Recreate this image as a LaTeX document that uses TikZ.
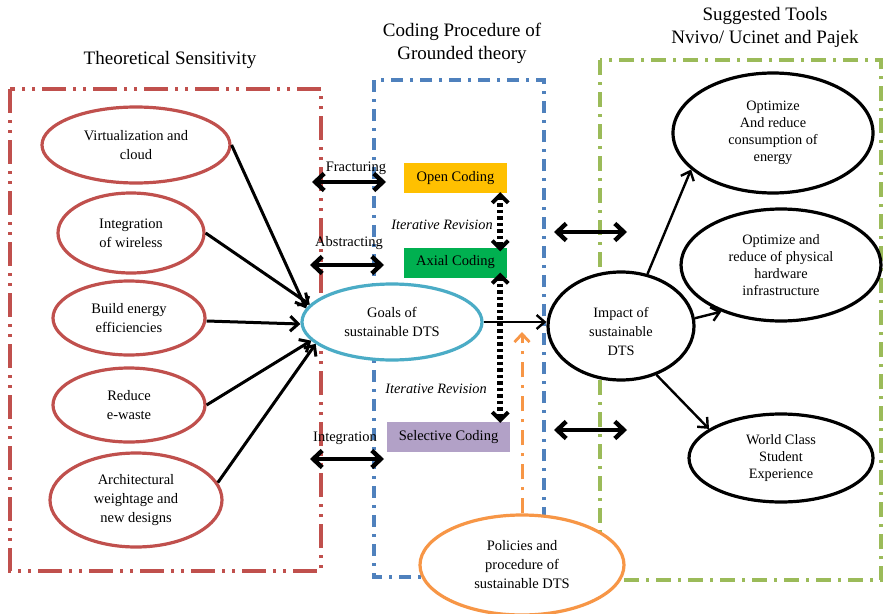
\documentclass[tikz,border=0pt]{standalone}
\usepackage{fontspec}
\setmainfont{Liberation Serif}
\usetikzlibrary{shapes.geometric,arrows.meta}
\definecolor{redframe}{RGB}{192,80,77}
\definecolor{blueframe}{RGB}{79,129,189}
\definecolor{greenframe}{RGB}{155,187,89}
\definecolor{cyanring}{RGB}{75,172,198}
\definecolor{orangering}{RGB}{247,150,70}
\definecolor{opencol}{RGB}{255,192,0}
\definecolor{axialcol}{RGB}{0,176,80}
\definecolor{selcol}{RGB}{178,161,199}
\begin{document}
\begin{tikzpicture}[x=1pt,y=-1pt,
  font=\fontsize{14.5}{19}\selectfont,
  oval/.style={ellipse, draw, line width=3.2pt, fill=white, inner sep=0pt, align=center},
  redoval/.style={oval, draw=redframe},
  blackoval/.style={oval, draw=black, font=\fontsize{14.3}{17}\selectfont},
  codebox/.style={rectangle, inner sep=0pt, minimum width=103pt, minimum height=30pt},
  title/.style={font=\fontsize{19}{23}\selectfont, align=center},
  feed/.style={line width=3pt, -{Straight Barb[length=8pt,width=15pt,line width=3pt]}},
  thin/.style={line width=2.4pt, -{Straight Barb[length=8pt,width=14pt,line width=2.4pt]}},
  both/.style={line width=4.6pt, {Straight Barb[length=9pt,width=17pt,line width=4.4pt]}-{Straight Barb[length=9pt,width=17pt,line width=4.4pt]}},
  revise/.style={line width=5.5pt, dash pattern=on 3.5pt off 3pt, {Straight Barb[length=8pt,width=16pt,line width=3.8pt]}-{Straight Barb[length=8pt,width=16pt,line width=3.8pt]}},
  lbl/.style={inner sep=0pt}
]
\useasboundingbox (0,0) rectangle (883,613);
\fill[white] (0,0) rectangle (883,613);

% frames of the three stages
\draw[redframe, line width=3.2pt, dash pattern=on 24pt off 7pt on 3pt off 7pt on 3pt off 7pt]
  (10,89) rectangle (321,571);
\draw[blueframe, line width=3.2pt, dash pattern=on 12pt off 7pt on 3pt off 7pt]
  (374,80) rectangle (544,577);
\draw[greenframe, line width=3.2pt, dash pattern=on 15pt off 7pt on 3pt off 7pt]
  (600,60) rectangle (881,580);

% titles
\node[title] (t1) at (170,60) {Theoretical Sensitivity};
\node[title] (t2) at (462,43) {Coding Procedure of\\Grounded theory};
\node[title] (t3) at (765,27) {Suggested Tools\\Nvivo/ Ucinet and Pajek};

% theoretical sensitivity items
\node[redoval, minimum width=188pt, minimum height=76pt] (virt) at (136,145) {Virtualization and\\cloud};
\node[redoval, minimum width=146pt, minimum height=80pt] (wire) at (131,233) {Integration\\of wireless};
\node[redoval, minimum width=152pt, minimum height=74pt] (build) at (129,318) {Build energy\\efficiencies};
\node[redoval, minimum width=152pt, minimum height=74pt] (waste) at (129,405) {Reduce\\e-waste};
\node[redoval, minimum width=172pt, minimum height=94pt] (arch) at (136,500) {Architectural\\weightage and\\new designs};

% central goal
\node[oval, draw=cyanring, minimum width=180pt, minimum height=76pt] (goals) at (392,322) {Goals of\\sustainable DTS};

% coding stages
\node[codebox, fill=opencol] (open) at (455.5,178) {Open Coding};
\node[codebox, fill=axialcol] (axial) at (455.5,262.5) {Axial Coding};
\node[codebox, fill=selcol, minimum width=123pt] (sel) at (448.5,437) {Selective Coding};

\node[lbl] (frac) at (356,168) {Fracturing};
\node[lbl] (abst) at (349,243) {Abstracting};
\node[lbl] (integ) at (345,438) {Integration};
\node[lbl, font=\fontsize{14.3}{17}\itshape] (rev1) at (442,225) {Iterative Revision};
\node[lbl, font=\fontsize{14.3}{17}\itshape] (rev2) at (436,389) {Iterative Revision};

% policies
\node[oval, draw=orangering, minimum width=204pt, minimum height=100pt] (pol) at (522,565) {Policies and\\procedure of\\sustainable DTS};

% impact and its outcomes
\node[blackoval, minimum width=146pt, minimum height=108pt] (impact) at (621,326) {};
\node[lbl, align=center, font=\fontsize{14.3}{19}\selectfont] (impacttext) at (621,332) {Impact of\\sustainable\\DTS};
\node[blackoval, minimum width=200pt, minimum height=120pt] (opt1) at (773,133) {Optimize\\And reduce\\consumption of\\energy};
\node[blackoval, minimum width=200pt, minimum height=112pt] (opt2) at (781,265) {Optimize and\\reduce of physical\\hardware\\infrastructure};
\node[blackoval, minimum width=184pt, minimum height=88pt] (world) at (781,458) {World Class\\Student\\Experience};

% inputs to the goal
\draw[feed] (virt.east) -- (goals.171);
\draw[feed] (wire.east) -- (goals.168);
\draw[feed] ([yshift=-3pt]build.east) -- ([yshift=-2pt]goals.west);
\draw[feed] (waste.east) -- (goals.193);
\draw[feed] (arch.12) -- (goals.196);

% goal to impact
\draw[thin] (goals.east) -- (goals.east -| impact.west);

% impact to outcomes
\draw[thin] (impact.63) -- (opt1.204);
\draw[thin] (impact.6) -- (opt2.218);
\draw[thin] (impact.-54) -- (world.158);

% links between stages
\coordinate (f1) at (312,182); \coordinate (f2) at (386,182);
\coordinate (a1) at (310,265); \coordinate (a2) at (384,265);
\coordinate (i1) at (310,459); \coordinate (i2) at (384,459);
\coordinate (r1) at (554,232); \coordinate (r2) at (627,232);
\coordinate (s1) at (554,430); \coordinate (s2) at (627,430);
\draw[both] (f1) -- (f2);
\draw[both] (a1) -- (a2);
\draw[both] (i1) -- (i2);
\draw[both] (r1) -- (r2);
\draw[both] (s1) -- (s2);

% iterative revision between coding stages
\draw[revise] ([xshift=-7pt,yshift=1pt]open.south east) -- ([xshift=-7pt,yshift=-4pt]axial.north east);
\draw[revise] ([xshift=-7pt,yshift=5pt]axial.south east) -- ([xshift=-10pt,yshift=-1pt]sel.north east);

% policies feeding the process
\coordinate (ptop) at (522,332);
\draw[orangering, line width=3pt, dash pattern=on 15pt off 8pt on 3pt off 8pt,
  -{Straight Barb[length=8pt,width=15pt,line width=2.8pt]}] (pol.north) -- (ptop);
\end{tikzpicture}
\end{document}
